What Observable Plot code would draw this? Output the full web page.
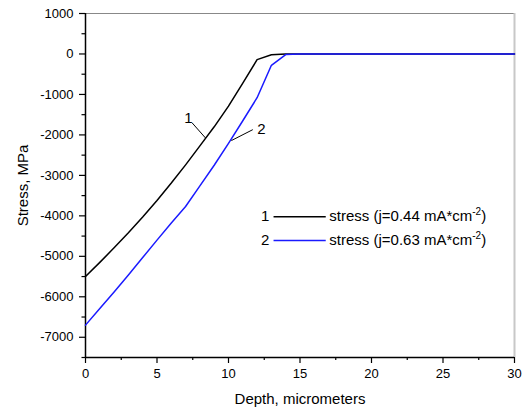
<!DOCTYPE html>
<html>
<head>
<meta charset="utf-8">
<script src="https://cdn.jsdelivr.net/npm/d3@7"></script>
<script src="https://cdn.jsdelivr.net/npm/@observablehq/plot@0.6"></script>
<style>
  html, body { margin: 0; padding: 0; background: #fff; }
  #chart svg { display: block; }
</style>
</head>
<body>
<div id="chart"></div>
<script>
// Depth (micrometers)
const depth = [0, 1, 2, 3, 4, 5, 6, 7, 8, 9, 10, 11, 12, 13, 14, 15, 16, 17, 18, 19, 20, 21, 22, 23, 24, 25, 26, 27, 28, 29, 30];
// Curve 1: j = 0.44 mA*cm^-2
const stress1 = [-5500, -5150, -4790, -4420, -4030, -3620, -3190, -2740, -2270, -1800, -1290, -720, -140, -20, 0, 0, 0, 0, 0, 0, 0, 0, 0, 0, 0, 0, 0, 0, 0, 0, 0];
// Curve 2: j = 0.63 mA*cm^-2
const stress2 = [-6700, -6290, -5880, -5460, -5030, -4600, -4175, -3770, -3260, -2750, -2210, -1650, -1080, -280, -15, 0, 0, 0, 0, 0, 0, 0, 0, 0, 0, 0, 0, 0, 0, 0, 0];

const seriesNames = ["1", "2"];
const seriesLabelBase = ["stress (j=0.44 mA*cm", "stress (j=0.63 mA*cm"];
const seriesLabelSup = "-2";
const seriesLabelEnd = ")";
const seriesColors = ["#000000", "#1a1aff"];

const xMajorTicks = [0, 5, 10, 15, 20, 25, 30];
const xMinorTicks = [2.5, 7.5, 12.5, 17.5, 22.5, 27.5];
const yMajorTicks = [1000, 0, -1000, -2000, -3000, -4000, -5000, -6000, -7000];
const yMinorTicks = [500, -500, -1500, -2500, -3500, -4500, -5500, -6500, -7500];

// Curve annotations (label position and leader line, in data units)
const annoText = ["1", "2"];
const annoX = [7.2, 12.3];
const annoY = [-1590, -1860];
const leadX1 = [7.45, 11.7];
const leadY1 = [-1700, -1870];
const leadX2 = [8.39, 10.2];
const leadY2 = [-2075, -2140];

// Legend (data units)
const legendY = [-4020, -4610];
const legendNumX = 12.85;
const legendLineX1 = 13.15;
const legendLineX2 = 16.8;
const legendTextX = 17.05;

const rows = (s) => depth.map((d, i) => ({depth: d, stress: s[i]}));
const data1 = rows(stress1);
const data2 = rows(stress2);

const legendRows = seriesNames.map((n, i) => ({num: n, label: seriesLabelBase[i], y: legendY[i], color: seriesColors[i]}));
const annoRows = annoText.map((t, i) => ({t, x: annoX[i], y: annoY[i], x1: leadX1[i], y1: leadY1[i], x2: leadX2[i], y2: leadY2[i]}));

const chart = Plot.plot({
  width: 528,
  height: 412,
  marginLeft: 85,
  marginRight: 14,
  marginTop: 13,
  marginBottom: 55,
  style: {fontFamily: "'Liberation Sans', Arial, sans-serif", fontSize: "13px", background: "#fff", color: "#000"},
  x: {domain: [0, 30]},
  y: {domain: [-7500, 1000]},
  marks: [
    // frame top & right
    Plot.ruleY([1000], {stroke: "#888", strokeWidth: 1}),
    Plot.ruleX([30], {stroke: "#c8c8c8", strokeWidth: 2}),
    // axes
    Plot.axisX({ticks: xMinorTicks, tickSize: 3, tickFormat: () => "", strokeWidth: 1.2}),
    Plot.axisX({ticks: xMajorTicks, tickSize: 6, tickPadding: 5, tickFormat: d => String(d), strokeWidth: 1.2,
      label: "Depth, micrometers", labelAnchor: "center", labelOffset: 46, labelArrow: "none", fontSize: 13}),
    Plot.axisY({ticks: yMinorTicks, tickSize: 3.5, tickFormat: () => "", strokeWidth: 1.2}),
    Plot.axisY({ticks: yMajorTicks, tickSize: 6, tickPadding: 6, tickFormat: d => String(d), strokeWidth: 1.2,
      label: "Stress, MPa", labelAnchor: "center", labelOffset: 68, labelArrow: "none", fontSize: 13}),
    Plot.ruleX([0], {stroke: "#000", strokeWidth: 1.5}),
    Plot.ruleY([-7500], {stroke: "#000", strokeWidth: 1.5}),
    // curves
    Plot.line(data1, {x: "depth", y: "stress", stroke: seriesColors[0], strokeWidth: 1.5}),
    Plot.line(data2, {x: "depth", y: "stress", stroke: seriesColors[1], strokeWidth: 1.5}),
    // annotations
    Plot.link(annoRows, {x1: "x1", y1: "y1", x2: "x2", y2: "y2", stroke: "#000", strokeWidth: 1}),
    Plot.text(annoRows, {x: "x", y: "y", text: "t", fontSize: 15, fill: "#000"}),
    // legend
    Plot.link(legendRows, {x1: legendLineX1, x2: legendLineX2, y1: "y", y2: "y", stroke: "color", strokeWidth: 1.5}),
    Plot.text(legendRows, {x: legendNumX, y: "y", text: "num", textAnchor: "end", fontSize: 15, fill: "#000"}),
    Plot.text(legendRows, {x: legendTextX, y: "y", text: "label", textAnchor: "start", fontSize: 15, fill: "#000"})
  ]
});

const NS = "http://www.w3.org/2000/svg";
chart.querySelectorAll("text").forEach(t => {
  const s = t.textContent;
  if (s === "Depth, micrometers" || s === "Stress, MPa") {
    t.setAttribute("font-size", "15");
    t.style.fontSize = "15px";
  }
  if (seriesLabelBase.includes(s)) {
    // add superscript exponent and closing parenthesis
    const sup = document.createElementNS(NS, "tspan");
    sup.setAttribute("font-size", "10");
    sup.setAttribute("dy", "-6");
    sup.textContent = seriesLabelSup;
    const end = document.createElementNS(NS, "tspan");
    end.setAttribute("dy", "6");
    end.textContent = seriesLabelEnd;
    t.appendChild(sup);
    t.appendChild(end);
  }
});

document.getElementById("chart").appendChild(chart);
</script>
</body>
</html>
